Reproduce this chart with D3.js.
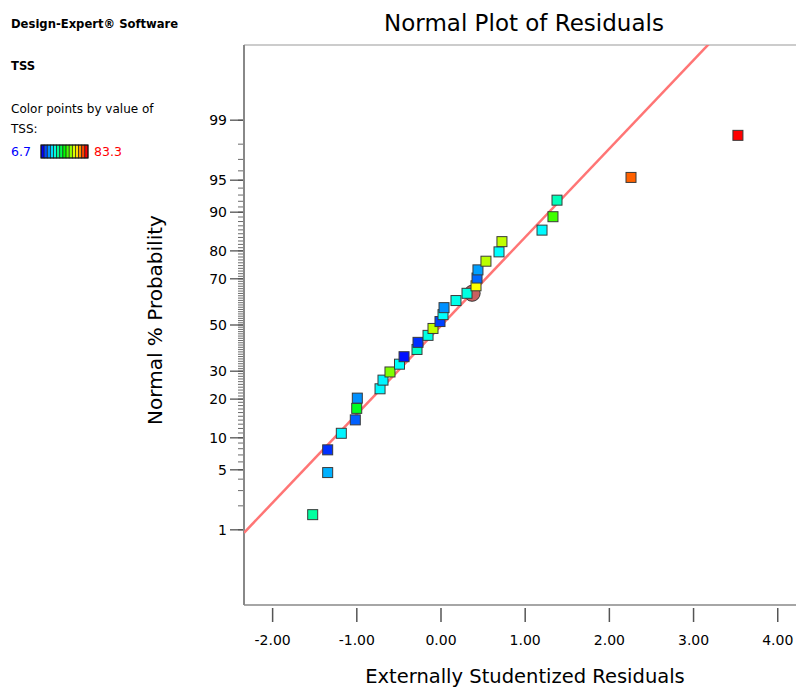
<!DOCTYPE html>
<html><head><meta charset="utf-8">
<script src="https://cdn.jsdelivr.net/npm/d3@7"></script>
<style>body{margin:0;background:#fff} svg{display:block;font-family:"DejaVu Sans",sans-serif}</style>
</head><body>
<svg id="chart" width="796" height="689"></svg>
<script>
// ---- data ----
const residuals = [-1.524,-1.346,-1.346,-1.184,-1.018,-1.001,-0.994,-0.724,-0.689,-0.606,
  -0.493,-0.439,-0.285,-0.273,-0.154,-0.095,-0.012,0.024,0.036,0.178,
  0.309,0.416,0.428,0.439,0.534,0.689,0.724,1.200,1.330,1.378,2.257,3.527];
const percents = [1.5625,4.6875,7.8125,10.9375,14.0625,17.1875,20.3125,23.4375,26.5625,29.6875,
  32.8125,35.9375,39.0625,42.1875,45.3125,48.4375,51.5625,54.6875,57.8125,60.9375,
  64.0625,67.1875,70.3125,73.4375,76.5625,79.6875,82.8125,85.9375,89.0625,92.1875,95.3125,98.4375];
const tssValues = [33,20,10.3,25,13.9,42.6,17.5,25.5,25,54.6,
  26,7.9,30,10.3,28,59.3,11.5,26,17.5,27.5,
  28,64,14.5,18.7,59,25.8,59.5,25.5,49.8,31,76,83.3];
const highlightResidual = [0.37];
const highlightPercent = [64.06];
const xTicks = [-2,-1,0,1,2,3,4];
const yMajorTicks = [1,5,10,20,30,50,70,80,90,95,99];
const yMinorTicks = d3.range(1,100);
const fitSlope = 1.0053, fitIntercept = -0.0074;
const tssMin = 6.7, tssMax = 83.3;

// inverse normal CDF (Acklam)
function probit(p){
 const a=[-3.969683028665376e+01,2.209460984245205e+02,-2.759285104469687e+02,1.383577518672690e+02,-3.066479806614716e+01,2.506628277459239e+00];
 const b=[-5.447609879822406e+01,1.615858368580409e+02,-1.556989798598866e+02,6.680131188771972e+01,-1.328068155288572e+01];
 const c=[-7.784894002430293e-03,-3.223964580411365e-01,-2.400758277161838e+00,-2.549732539343734e+00,4.374664141464968e+00,2.938163982698783e+00];
 const d=[7.784695709041462e-03,3.224671290700398e-01,2.445134137142996e+00,3.754408661907416e+00];
 const pl=0.02425, ph=1-pl; let q,r;
 if(p<pl){q=Math.sqrt(-2*Math.log(p));return (((((c[0]*q+c[1])*q+c[2])*q+c[3])*q+c[4])*q+c[5])/((((d[0]*q+d[1])*q+d[2])*q+d[3])*q+1);}
 if(p<=ph){q=p-0.5;r=q*q;return (((((a[0]*r+a[1])*r+a[2])*r+a[3])*r+a[4])*r+a[5])*q/(((((b[0]*r+b[1])*r+b[2])*r+b[3])*r+b[4])*r+1);}
 q=Math.sqrt(-2*Math.log(1-p));return -(((((c[0]*q+c[1])*q+c[2])*q+c[3])*q+c[4])*q+c[5])/((((d[0]*q+d[1])*q+d[2])*q+d[3])*q+1);
}

const svg = d3.select("#chart");
const L=244, T=45, B=605, R=803;
const x = d3.scaleLinear().domain([-2.34,4.3]).range([L,R]);
const z = d3.scaleLinear().domain([-3.18,3.18]).range([B,T]);
const y = p => z(probit(p/100));
const span = tssMax - tssMin;
const color = d3.scaleLinear()
  .domain([tssMin, tssMin+span*0.25, tssMin+span*0.5, tssMin+span*0.75, tssMax])
  .range(["#0000ff","#00ffff","#00ff00","#ffff00","#ff0000"]);
const fmt = d => d3.format(".2f")(d).replace("\u2212","-");

// left info panel
svg.append("text").attr("x",11).attr("y",28).attr("font-size",11.6).attr("font-weight","bold").text("Design-Expert® Software");
svg.append("text").attr("x",11).attr("y",70).attr("font-size",11.6).attr("font-weight","bold").text("TSS");
svg.append("text").attr("x",11).attr("y",113).attr("font-size",12).text("Color points by value of");
svg.append("text").attr("x",11).attr("y",133).attr("font-size",12).text("TSS:");
svg.append("text").attr("x",11).attr("y",156).attr("font-size",12.5).attr("fill","#0000ff").text(String(tssMin));
svg.append("text").attr("x",94).attr("y",156).attr("font-size",12.5).attr("fill","#ff0000").text(String(tssMax));
const nStripes = 15, bx=41, by=145, bw=47, bh=13;
const stripe = bw/nStripes;
svg.append("g").selectAll("rect").data(d3.range(nStripes)).join("rect")
  .attr("x",i=>bx+i*stripe).attr("y",by).attr("width",stripe).attr("height",bh)
  .attr("fill",i=>color(tssMin+span*i/(nStripes-1))).attr("stroke","#222").attr("stroke-width",0.7);
svg.append("rect").attr("x",bx).attr("y",by).attr("width",bw).attr("height",bh)
  .attr("fill","none").attr("stroke","#111").attr("stroke-width",1);

// title
svg.append("text").attr("x",524).attr("y",31).attr("text-anchor","middle").attr("font-size",23).text("Normal Plot of Residuals");

// frame
svg.append("line").attr("x1",L).attr("x2",R).attr("y1",T).attr("y2",T).attr("stroke","#999").attr("stroke-width",1);
svg.append("line").attr("x1",L).attr("x2",R).attr("y1",B).attr("y2",B).attr("stroke","#888").attr("stroke-width",1.5);
svg.append("line").attr("x1",L).attr("x2",L).attr("y1",T).attr("y2",B).attr("stroke","#888").attr("stroke-width",2);

// x axis ticks
const xg = svg.append("g");
xg.selectAll("line").data(xTicks).join("line")
  .attr("x1",d=>x(d)).attr("x2",d=>x(d)).attr("y1",608).attr("y2",622).attr("stroke","#555").attr("stroke-width",1.5);
xg.selectAll("text").data(xTicks).join("text")
  .attr("x",d=>x(d)).attr("y",645).attr("text-anchor","middle").attr("font-size",14).text(fmt);

// y axis ticks
const yg = svg.append("g");
yg.selectAll("line.minor").data(yMinorTicks).join("line").attr("class","minor")
  .attr("x1",238).attr("x2",243).attr("y1",d=>y(d)).attr("y2",d=>y(d)).attr("stroke","#444").attr("stroke-width",0.8);
yg.selectAll("line.major").data(yMajorTicks).join("line").attr("class","major")
  .attr("x1",230).attr("x2",243).attr("y1",d=>y(d)).attr("y2",d=>y(d)).attr("stroke","#444").attr("stroke-width",1.2);
yg.selectAll("text").data(yMajorTicks).join("text")
  .attr("x",227).attr("y",d=>y(d)).attr("dy","0.35em").attr("text-anchor","end").attr("font-size",14).text(d=>d);

// axis titles
svg.append("text").attr("x",525).attr("y",683).attr("text-anchor","middle").attr("font-size",19.5).text("Externally Studentized Residuals");
svg.append("text").attr("transform","translate(162,320) rotate(-90)").attr("text-anchor","middle").attr("font-size",20).text("Normal % Probability");

// fit line (clipped)
svg.append("clipPath").attr("id","plotclip").append("rect").attr("x",L).attr("y",T).attr("width",R-L).attr("height",B-T);
const xd = x.domain();
svg.append("line").attr("clip-path","url(#plotclip)")
  .attr("x1",x(xd[0])).attr("y1",z(fitSlope*xd[0]+fitIntercept))
  .attr("x2",x(xd[1])).attr("y2",z(fitSlope*xd[1]+fitIntercept))
  .attr("stroke","#ff7575").attr("stroke-width",2.5);

// highlighted point circle
svg.append("g").selectAll("circle").data(highlightResidual).join("circle")
  .attr("cx",d=>x(d)).attr("cy",(d,i)=>y(highlightPercent[i])).attr("r",8)
  .attr("fill","#c86060").attr("stroke","#333").attr("stroke-width",1);

// points
const pts = residuals.map((r,i)=>({r, p:percents[i], t:tssValues[i]}));
svg.append("g").selectAll("rect").data(pts).join("rect")
  .attr("x",d=>x(d.r)-5).attr("y",d=>y(d.p)-5).attr("width",10).attr("height",10)
  .attr("fill",d=>color(d.t)).attr("stroke","#3a3a3a").attr("stroke-width",1);
</script>
</body></html>
